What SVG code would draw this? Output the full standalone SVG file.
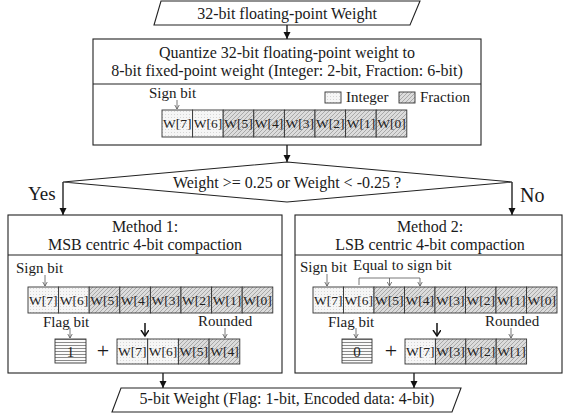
<svg xmlns="http://www.w3.org/2000/svg" width="563" height="418" viewBox="0 0 563 418" font-family="Liberation Serif, Times New Roman, DejaVu Serif, serif">
<defs>
<pattern id="int" width="3" height="3" patternUnits="userSpaceOnUse"><rect width="3" height="3" fill="#f6f6f6"/><rect x="0" y="0" width="1" height="1" fill="#d6d6d6"/></pattern>
<pattern id="frac" width="4" height="4" patternUnits="userSpaceOnUse"><rect width="4" height="4" fill="#dcdcdc"/><path d="M-1 1L1 -1M0 4L4 0M3 5L5 3" stroke="#a4a4a4" stroke-width="0.9"/></pattern>
<pattern id="flag" width="4" height="3" patternUnits="userSpaceOnUse"><rect width="4" height="3" fill="#fafafa"/><line x1="0" y1="0.5" x2="4" y2="0.5" stroke="#8a8a8a" stroke-width="1"/></pattern>
<marker id="ah" markerUnits="userSpaceOnUse" markerWidth="8" markerHeight="8" refX="7" refY="3.5" orient="auto"><path d="M0,0 L7,3.5 L0,7 z" fill="#111"/></marker>
<marker id="thin" markerUnits="userSpaceOnUse" markerWidth="6" markerHeight="6" refX="4.5" refY="2.5" orient="auto"><path d="M0,0 L4.5,2.5 L0,5" fill="none" stroke="#555" stroke-width="0.8"/></marker>
<marker id="bold" markerUnits="userSpaceOnUse" markerWidth="9" markerHeight="10" refX="6" refY="4" orient="auto"><path d="M0,0 L6,4 L0,8" fill="none" stroke="#111" stroke-width="1.5"/></marker>
</defs>
<style>
text{font-family:"Liberation Serif","Times New Roman","DejaVu Serif",serif;fill:#1a1a1a}
.t16{font-size:16px;text-anchor:middle}
.lab{font-size:15px}
.cell{font-size:13.5px;text-anchor:middle;fill:#222}
.dig{font-size:15px;text-anchor:middle;fill:#222}
.box{fill:#fff;stroke:#222;stroke-width:1.1}
.ci{fill:url(#int);stroke:#333;stroke-width:0.9}
.cf{fill:url(#frac);stroke:#333;stroke-width:0.9}
.conn{stroke:#111;stroke-width:1.3;fill:none;marker-end:url(#ah)}
.tl{stroke:#555;stroke-width:0.8;fill:none;marker-end:url(#thin)}
.bl{stroke:#111;stroke-width:1.5;fill:none;marker-end:url(#bold)}
.big{font-size:22px;text-anchor:middle}
</style>

<g id="connectors">
<line class="conn" x1="287" y1="25" x2="287" y2="39"/>
<line class="conn" x1="287" y1="145" x2="287" y2="162"/>
<polyline class="conn" points="63,182 63,215"/>
<polyline class="conn" points="512,182 512,215"/>
<line class="conn" x1="163" y1="373" x2="163" y2="388"/>
<line class="conn" x1="414" y1="373" x2="414" y2="388"/>
</g>

<g id="input">
<polygon class="box" points="161,1 420,1 410,25 154,25"/>
<text class="t16" x="287" y="19">32-bit floating-point Weight</text>
</g>

<g id="quantize">
<rect class="box" x="93" y="39" width="388" height="106"/>
<line x1="93" y1="84" x2="481" y2="84" stroke="#222" stroke-width="1.1"/>
<text class="t16" x="287" y="58">Quantize 32-bit floating-point weight to</text>
<text class="t16" x="287" y="76">8-bit fixed-point weight (Integer: 2-bit, Fraction: 6-bit)</text>
<text class="lab" x="149" y="98">Sign bit</text>
<line class="tl" x1="177" y1="100" x2="177" y2="109"/>
<rect class="ci" x="325" y="92" width="16" height="11"/>
<text class="lab" x="346" y="102">Integer</text>
<rect class="cf" x="399" y="92" width="16" height="11"/>
<text class="lab" x="420" y="102">Fraction</text>
<rect class="ci" x="162" y="110" width="30.6" height="27"/>
<rect class="ci" x="192.6" y="110" width="30.6" height="27"/>
<rect class="cf" x="223.2" y="110" width="30.6" height="27"/>
<rect class="cf" x="253.8" y="110" width="30.6" height="27"/>
<rect class="cf" x="284.4" y="110" width="30.6" height="27"/>
<rect class="cf" x="315" y="110" width="30.6" height="27"/>
<rect class="cf" x="345.6" y="110" width="30.6" height="27"/>
<rect class="cf" x="376.2" y="110" width="30.6" height="27"/>
<text class="cell" x="177.3" y="128">W[7]</text>
<text class="cell" x="207.9" y="128">W[6]</text>
<text class="cell" x="238.5" y="128">W[5]</text>
<text class="cell" x="269.1" y="128">W[4]</text>
<text class="cell" x="299.7" y="128">W[3]</text>
<text class="cell" x="330.3" y="128">W[2]</text>
<text class="cell" x="360.9" y="128">W[1]</text>
<text class="cell" x="391.5" y="128">W[0]</text>
</g>

<g id="decision">
<polygon class="box" points="287,162 512,182 287,202 63,182"/>
<text class="t16" x="287" y="188">Weight &gt;= 0.25 or Weight &lt; -0.25 ?</text>
<text x="28" y="200" style="font-size:19px">Yes</text>
<text x="520" y="202" style="font-size:20px">No</text>
</g>

<g id="method1">
<rect class="box" x="8" y="215" width="274" height="158"/>
<line x1="8" y1="255" x2="282" y2="255" stroke="#222" stroke-width="1.1"/>
<text class="t16" x="145" y="232">Method 1:</text>
<text class="t16" x="145" y="250">MSB centric 4-bit compaction</text>
<text class="lab" x="16" y="273">Sign bit</text>
<line class="tl" x1="45" y1="275" x2="45" y2="286"/>
<rect class="ci" x="28" y="287" width="30.6" height="26"/>
<rect class="ci" x="58.6" y="287" width="30.6" height="26"/>
<rect class="cf" x="89.2" y="287" width="30.6" height="26"/>
<rect class="cf" x="119.8" y="287" width="30.6" height="26"/>
<rect class="cf" x="150.4" y="287" width="30.6" height="26"/>
<rect class="cf" x="181" y="287" width="30.6" height="26"/>
<rect class="cf" x="211.6" y="287" width="30.6" height="26"/>
<rect class="cf" x="242.2" y="287" width="30.6" height="26"/>
<text class="cell" x="43.3" y="305">W[7]</text>
<text class="cell" x="73.9" y="305">W[6]</text>
<text class="cell" x="104.5" y="305">W[5]</text>
<text class="cell" x="135.1" y="305">W[4]</text>
<text class="cell" x="165.7" y="305">W[3]</text>
<text class="cell" x="196.3" y="305">W[2]</text>
<text class="cell" x="226.9" y="305">W[1]</text>
<text class="cell" x="257.5" y="305">W[0]</text>
<text class="lab" x="43" y="327">Flag bit</text>
<line class="tl" x1="70" y1="328" x2="70" y2="338"/>
<rect x="55" y="339" width="31" height="24" fill="url(#flag)" stroke="#333" stroke-width="0.9"/>
<text class="dig" x="70.5" y="357">1</text>
<text class="big" x="103" y="358">+</text>
<line class="bl" x1="145" y1="323" x2="145" y2="336"/>
<text class="lab" x="198" y="326">Rounded</text>
<line class="tl" x1="225" y1="328" x2="225" y2="338"/>
<rect class="ci" x="117" y="339" width="30.7" height="25"/>
<rect class="ci" x="147.7" y="339" width="30.7" height="25"/>
<rect class="cf" x="178.4" y="339" width="30.7" height="25"/>
<rect class="cf" x="209.1" y="339" width="30.7" height="25"/>
<text class="cell" x="132.3" y="356">W[7]</text>
<text class="cell" x="163" y="356">W[6]</text>
<text class="cell" x="193.7" y="356">W[5]</text>
<text class="cell" x="224.4" y="356">W[4]</text>
</g>

<g id="method2">
<rect class="box" x="295" y="215" width="267" height="158"/>
<line x1="295" y1="255" x2="562" y2="255" stroke="#222" stroke-width="1.1"/>
<text class="t16" x="430" y="232">Method 2:</text>
<text class="t16" x="430" y="250">LSB centric 4-bit compaction</text>
<text class="lab" x="300" y="272">Sign bit</text>
<line class="tl" x1="327" y1="274" x2="327" y2="286"/>
<text class="lab" x="353" y="270">Equal to sign bit</text>
<path d="M359,285 V278 H420" fill="none" stroke="#555" stroke-width="0.8"/>
<line class="tl" x1="389.5" y1="278" x2="389.5" y2="286"/>
<line class="tl" x1="420" y1="278" x2="420" y2="286"/>
<rect class="ci" x="313" y="287" width="30.5" height="26"/>
<rect class="ci" x="343.5" y="287" width="30.5" height="26"/>
<rect class="cf" x="374" y="287" width="30.5" height="26"/>
<rect class="cf" x="404.5" y="287" width="30.5" height="26"/>
<rect class="cf" x="435" y="287" width="30.5" height="26"/>
<rect class="cf" x="465.5" y="287" width="30.5" height="26"/>
<rect class="cf" x="496" y="287" width="30.5" height="26"/>
<rect class="cf" x="526.5" y="287" width="30.5" height="26"/>
<text class="cell" x="328.2" y="305">W[7]</text>
<text class="cell" x="358.7" y="305">W[6]</text>
<text class="cell" x="389.2" y="305">W[5]</text>
<text class="cell" x="419.7" y="305">W[4]</text>
<text class="cell" x="450.2" y="305">W[3]</text>
<text class="cell" x="480.7" y="305">W[2]</text>
<text class="cell" x="511.2" y="305">W[1]</text>
<text class="cell" x="541.7" y="305">W[0]</text>
<text class="lab" x="328" y="327">Flag bit</text>
<line class="tl" x1="356" y1="328" x2="356" y2="338"/>
<rect x="342" y="339" width="30" height="24" fill="url(#flag)" stroke="#333" stroke-width="0.9"/>
<text class="dig" x="357" y="357">0</text>
<text class="big" x="391" y="358">+</text>
<line class="bl" x1="437" y1="323" x2="437" y2="336"/>
<text class="lab" x="485" y="326">Rounded</text>
<line class="tl" x1="511" y1="328" x2="511" y2="338"/>
<rect class="ci" x="405" y="339" width="30.4" height="25"/>
<rect class="cf" x="435.4" y="339" width="30.4" height="25"/>
<rect class="cf" x="465.8" y="339" width="30.4" height="25"/>
<rect class="cf" x="496.2" y="339" width="30.4" height="25"/>
<text class="cell" x="420.2" y="356">W[7]</text>
<text class="cell" x="450.6" y="356">W[3]</text>
<text class="cell" x="481" y="356">W[2]</text>
<text class="cell" x="511.4" y="356">W[1]</text>
</g>

<g id="output">
<polygon class="box" points="121,388 461,388 452,412 112,412"/>
<text class="t16" x="287" y="404">5-bit Weight (Flag: 1-bit, Encoded data: 4-bit)</text>
</g>
</svg>
